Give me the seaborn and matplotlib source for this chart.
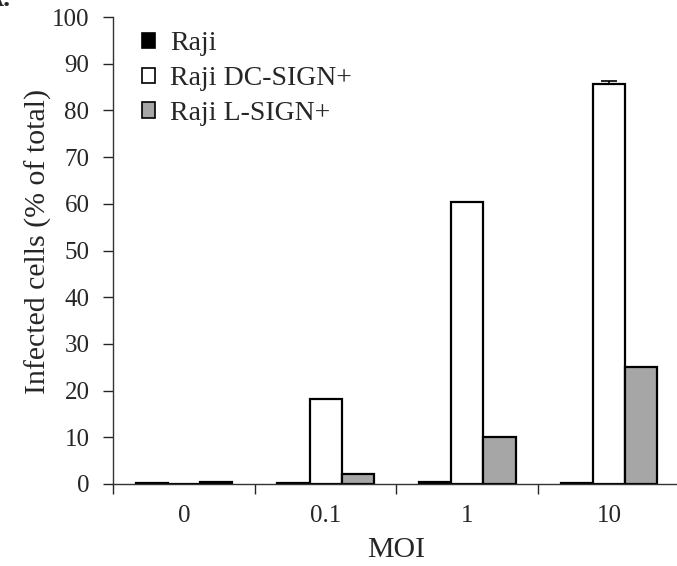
import matplotlib
matplotlib.use("Agg")
import matplotlib.pyplot as plt
import matplotlib.patches as mpatches
import seaborn as sns
import pandas as pd
import numpy as np

# Data
moi = ["0", "0.1", "1", "10"]
cell_lines = ["Raji", "Raji DC-SIGN+", "Raji L-SIGN+"]
raji = [0.3, 0.3, 0.5, 0.3]
raji_dc = [0.1, 18.3, 60.3, 85.7]
raji_l = [0.5, 2.1, 10.0, 25.0]
raji_err = [0.0, 0.0, 0.0, 0.0]
raji_dc_err = [0.0, 0.0, 0.0, 0.6]
raji_l_err = [0.0, 0.0, 0.0, 0.0]
colors = ["#000000", "#ffffff", "#a6a6a6"]

sns.set_style("ticks")
plt.rcParams["font.family"] = ["Liberation Serif", "DejaVu Serif"]

df = pd.DataFrame({
    "MOI": moi * 3,
    "line": np.repeat(cell_lines, len(moi)),
    "value": raji + raji_dc + raji_l,
})

fig = plt.figure(figsize=(6.77, 5.66), dpi=100)
ax = fig.add_axes([113 / 677, 1 - 484 / 566, (680 - 113) / 677, (484 - 17) / 566])

sns.barplot(data=df, x="MOI", y="value", hue="line", order=moi, hue_order=cell_lines,
            palette=colors, width=0.68, edgecolor="black", linewidth=1.6,
            errorbar=None, legend=False, ax=ax)

# error bars (upper only)
errs = raji_err + raji_dc_err + raji_l_err
vals = raji + raji_dc + raji_l
bars = [p for p in ax.patches if isinstance(p, mpatches.Rectangle)][:len(vals)]
for p, v, e in zip(bars, vals, errs):
    if e > 0:
        cx = p.get_x() + p.get_width() / 2
        ax.errorbar(cx, v, yerr=[[0], [e]], color="black", capsize=6, elinewidth=1.2, capthick=1.2)

ax.set_ylim(0, 100)
ax.set_yticks(range(0, 101, 10))
ax.set_xlim(-0.5, 3.5)
ax.set_xticks([-0.5, 0.5, 1.5, 2.5, 3.5])
ax.set_xticklabels([])
ax.set_xticks(range(len(moi)), minor=True)
ax.set_xticklabels(moi, minor=True)
ax.tick_params(axis="x", which="major", length=7, width=1, direction="out")
ax.tick_params(axis="x", which="minor", length=0, pad=15, labelsize=18)
ax.tick_params(axis="y", length=7, width=1, direction="out", labelsize=18, pad=10)
for s in ["top", "right"]:
    ax.spines[s].set_visible(False)
for s in ["left", "bottom"]:
    ax.spines[s].set_linewidth(1)
    ax.spines[s].set_color("#333333")

ax.set_xlabel("MOI", fontsize=21.5, labelpad=7.5)
ax.set_ylabel("Infected cells (% of total)", fontsize=21.5)
ax.yaxis.set_label_coords(-0.107, 0.52)

handles = [mpatches.Patch(facecolor=c, edgecolor="black", linewidth=1.2, label=l)
           for c, l in zip(colors, cell_lines)]
ax.legend(handles=handles, loc="upper left", bbox_to_anchor=(0.051, 0.969), frameon=False,
          borderpad=0, borderaxespad=0, fontsize=20, handlelength=0.47, handleheight=0.47,
          handletextpad=0.55, labelspacing=0.35)

fig.text(11 / 677, 1 - 6 / 566, "A.", fontsize=20, fontweight="bold", ha="right", va="baseline")

fig.savefig("out.png", dpi=100)
